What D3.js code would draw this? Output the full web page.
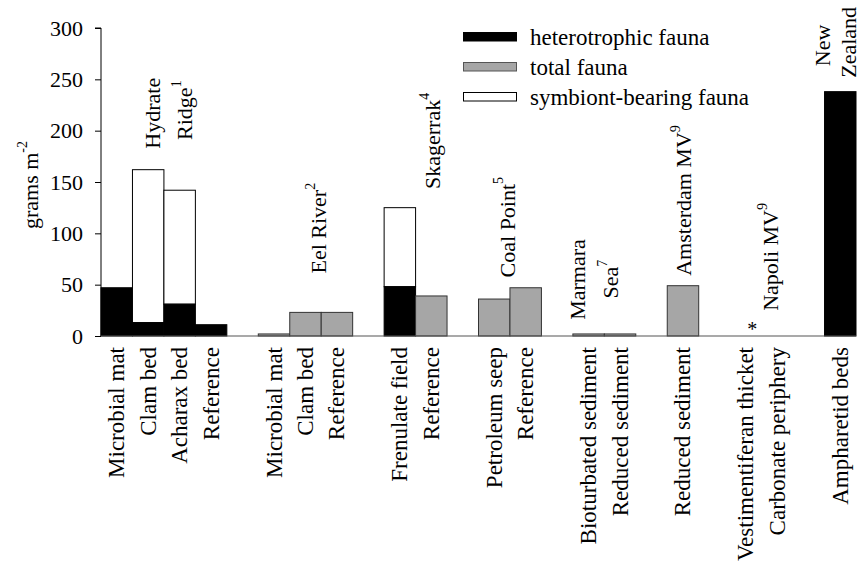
<!DOCTYPE html>
<html>
<head>
<meta charset="utf-8">
<script src="https://cdnjs.cloudflare.com/ajax/libs/d3/7.8.5/d3.min.js"></script>
<style>
  html, body { margin: 0; padding: 0; background: #fff; }
  svg, svg text, svg tspan { font-family: "Liberation Serif", Tinos, "Times New Roman", Times, "DejaVu Serif", "Noto Serif", serif; }
</style>
</head>
<body>
<svg id="chart" width="862" height="569"></svg>
<script>
// Habitats, in plotting order, and the site group each belongs to
const habitats = [
  "Microbial mat", "Clam bed", "Acharax bed", "Reference",
  "Microbial mat", "Clam bed", "Reference",
  "Frenulate field", "Reference",
  "Petroleum seep", "Reference",
  "Bioturbated sediment", "Reduced sediment",
  "Reduced sediment",
  "Vestimentiferan thicket", "Carbonate periphery",
  "Ampharetid beds"
];
const habitatGroup = [0, 0, 0, 0, 1, 1, 1, 2, 2, 3, 3, 4, 4, 5, 6, 6, 7];

// Biomass (grams m^-2)
const heterotrophic = [47, 13, 31, 11, null, null, null, 48, null, null, null, null, null, null, null, null, 238];
const symbiont      = [0, 149, 111, 0, null, null, null, 77, null, null, null, null, null, null, null, null, null];
const totalFauna    = [null, null, null, null, 2, 23, 23, null, 39, 36, 47, 2, 2, 49, null, null, null];

const yTicks = [0, 50, 100, 150, 200, 250, 300];

// Site names (lines of rotated text, last line may carry a reference superscript)
const siteLines = [
  [["Hydrate", ""], ["Ridge", "1"]],
  [["Eel River", "2"]],
  [["Skagerrak", "4"]],
  [["Coal Point", "5"]],
  [["Marmara", ""], ["Sea", "7"]],
  [["Amsterdam MV", "9"]],
  [["Napoli MV", "9"]],
  [["New", ""], ["Zealand", ""]]
];
// Where each site name line sits: x in slot units, y in data units
const siteLabelAt = [
  [[1.62, 217], [2.64, 220]],
  [[6.9, 105]],
  [[10.52, 190]],
  [[12.9, 106]],
  [[15.13, 55], [16.18, 55.5]],
  [[18.5, 132]],
  [[21.27, 77]],
  [[22.93, 283], [23.76, 286]]
];

const legendItems = [
  ["heterotrophic fauna", "#000000", "#000000"],
  ["total fauna", "#a6a6a6", "#555555"],
  ["symbiont-bearing fauna", "#ffffff", "#000000"]
];

const FONT = 22;
const LABEL_FONT = 23;
const FAMILY = '"Liberation Serif", Tinos, "Times New Roman", Times, "DejaVu Serif", serif';
const margin = { left: 101, top: 28, right: 6, bottom: 233 };
const W = 862, H = 569;
const plotW = W - margin.left - margin.right;
const plotH = H - margin.top - margin.bottom;

const svg = d3.select("#chart");
const g = svg.append("g").attr("transform", `translate(${margin.left},${margin.top})`);

// One slot per habitat, plus an empty slot between site groups
const slots = [];
habitats.forEach((h, i) => {
  if (i > 0 && habitatGroup[i] !== habitatGroup[i - 1]) slots.push({ gap: true, key: "gap" + i });
  slots.push({ gap: false, key: "h" + i, i });
});

const x = d3.scaleBand().domain(slots.map(s => s.key)).range([0, plotW]).paddingInner(0).paddingOuter(0);
const y = d3.scaleLinear().domain([0, 300]).range([plotH, 0]);
const slotX = u => u * x.step();

// Bars
const barData = slots.filter(s => !s.gap);
barData.forEach(s => {
  const i = s.i;
  const x0 = x(s.key), bw = x.bandwidth();
  if (totalFauna[i] != null) {
    g.append("rect").attr("x", x0).attr("width", bw)
      .attr("y", y(totalFauna[i])).attr("height", y(0) - y(totalFauna[i]))
      .attr("fill", "#a6a6a6").attr("stroke", "#333").attr("stroke-width", 1);
  }
  if (heterotrophic[i] != null) {
    const het = heterotrophic[i];
    const sym = symbiont[i] || 0;
    if (sym > 0) {
      g.append("rect").attr("x", x0).attr("width", bw)
        .attr("y", y(het + sym)).attr("height", y(het) - y(het + sym))
        .attr("fill", "#fff").attr("stroke", "#000").attr("stroke-width", 1);
    }
    g.append("rect").attr("x", x0).attr("width", bw)
      .attr("y", y(het)).attr("height", y(0) - y(het))
      .attr("fill", "#000").attr("stroke", "#000").attr("stroke-width", 1);
  }
});

// Y axis
const yAxis = d3.axisLeft(y).tickValues(yTicks).tickSize(6).tickPadding(12).tickFormat(d3.format("d"));
const ya = g.append("g").call(yAxis).attr("font-family", FAMILY).attr("font-size", FONT);
ya.select(".domain").attr("d", `M-6,${y(300)}H0V${y(0)}`).attr("stroke", "#000");
ya.selectAll("text").attr("font-size", FONT).style("font-family", FAMILY).attr("fill", "#000");
ya.selectAll("line").attr("stroke", "#000");

// Baseline
g.append("line").attr("x1", 0).attr("x2", plotW).attr("y1", y(0)).attr("y2", y(0))
  .attr("stroke", "#555").attr("stroke-width", 1.2);

// Y axis title
const yt = svg.append("text")
  .attr("transform", `translate(30,${margin.top + y(150) + 3}) rotate(-90)`)
  .attr("text-anchor", "middle").attr("dominant-baseline", "central")
  .attr("font-size", FONT).style("font-family", FAMILY);
yt.append("tspan").text("grams m");
yt.append("tspan").text("-2").attr("font-size", 14).attr("dy", "-0.55em");

// Habitat labels under each bar
barData.forEach(s => {
  g.append("text")
    .attr("transform", `translate(${x(s.key) + x.bandwidth() / 2},${y(0) + 11}) rotate(-90)`)
    .attr("text-anchor", "end").attr("dominant-baseline", "central")
    .attr("font-size", LABEL_FONT).style("font-family", FAMILY)
    .text(habitats[s.i]);
});

// Site names above bar groups
siteLines.forEach((lines, gi) => {
  lines.forEach((ln, li) => {
    const [ux, vy] = siteLabelAt[gi][li];
    const t = g.append("text")
      .attr("transform", `translate(${slotX(ux)},${y(vy)}) rotate(-90)`)
      .attr("text-anchor", "middle").attr("dominant-baseline", "central")
      .attr("font-size", FONT).style("font-family", FAMILY);
    t.append("tspan").text(ln[0]);
    if (ln[1]) t.append("tspan").text(ln[1]).attr("font-size", 14).attr("dy", "-0.6em");
  });
});

// Asterisk marking the Napoli thicket
g.append("text")
  .attr("x", slotX(20.7)).attr("y", y(7))
  .attr("text-anchor", "middle").attr("dominant-baseline", "central")
  .attr("font-size", 20).style("font-family", FAMILY).text("*");

// Legend
const lg = svg.append("g").attr("transform", "translate(463,32)");
legendItems.forEach((d, i) => {
  const row = lg.append("g").attr("transform", `translate(0,${i * 30})`);
  row.append("rect").attr("x", 0.5).attr("y", 0.5).attr("width", 53).attr("height", 8.5)
    .attr("fill", d[1]).attr("stroke", d[2]).attr("stroke-width", 1);
  row.append("text").attr("x", 67).attr("y", 5).attr("dominant-baseline", "central")
    .attr("font-size", LABEL_FONT).style("font-family", FAMILY).text(d[0]);
});
</script>
</body>
</html>
